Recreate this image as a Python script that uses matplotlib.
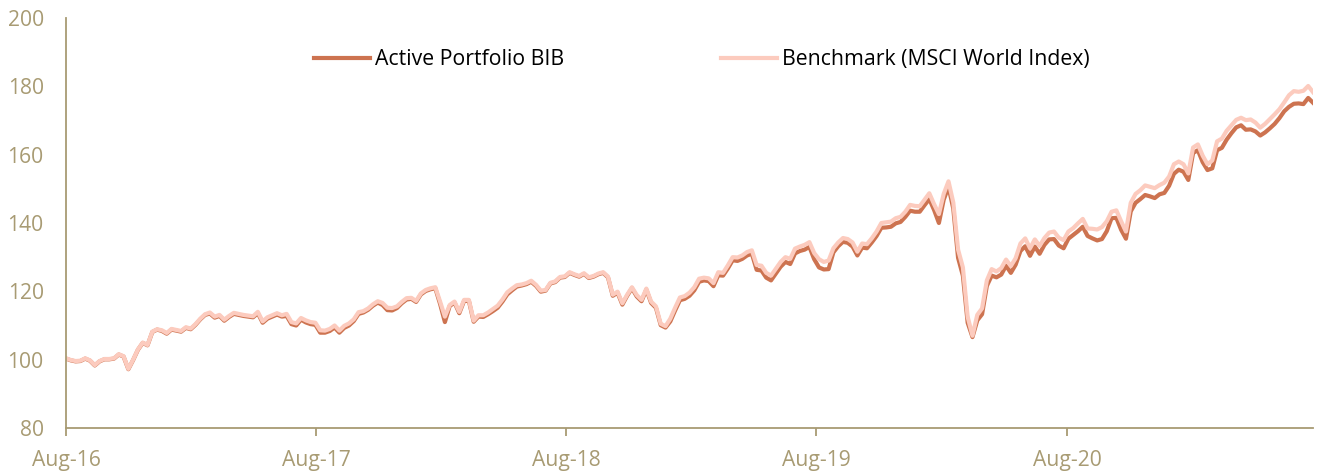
import matplotlib
matplotlib.use("Agg")
import matplotlib.pyplot as plt
import matplotlib.dates as mdates
import pandas as pd

# weekly index values, Aug-16 = 100
start_date = "2016-08-01"

benchmark = [
    100.4, 99.9, 99.6, 99.7, 100.4, 99.8, 98.4, 99.6, 100.2, 100.2,
    100.4, 101.6, 101.0, 97.3, 100.0, 103.0, 105.0, 104.3, 108.2, 108.9,
    108.6, 107.8, 109.0, 108.7, 108.4, 109.5, 109.1, 110.4, 112.0, 113.3,
    113.8, 112.6, 113.1, 111.7, 112.8, 113.7, 113.4, 113.1, 112.9, 112.7,
    114.0, 111.2, 112.4, 113.0, 113.6, 113.0, 113.4, 111.0, 110.6, 112.2,
    111.5, 111.0, 110.8, 108.6, 108.5, 109.0, 110.0, 108.5, 109.9, 110.6,
    111.8, 113.9, 114.2, 115.0, 116.2, 117.1, 116.6, 115.2, 115.1, 115.6,
    116.9, 118.0, 118.1, 117.2, 119.4, 120.4, 120.9, 121.2, 117.0, 112.6,
    116.0, 117.0, 114.0, 117.5, 117.5, 111.4, 113.0, 113.0, 113.8, 114.8,
    115.8, 117.6, 119.7, 120.8, 121.8, 122.0, 122.4, 123.1, 121.9, 120.2,
    120.4, 122.5, 122.9, 124.2, 124.4, 125.6, 125.0, 124.5, 125.3, 124.1,
    124.5, 125.2, 125.6, 124.3, 119.0, 119.9, 116.5, 119.0, 121.2, 118.9,
    117.5, 120.8, 117.0, 115.6, 110.5, 109.8, 112.0, 115.2, 118.2, 118.6,
    119.6, 121.2, 123.7, 124.0, 123.8, 122.4, 125.6, 125.4, 127.6, 130.0,
    129.9, 130.5, 131.5, 132.0, 127.7, 127.5, 125.4, 124.6, 126.6, 128.6,
    130.0, 129.5, 132.5, 133.1, 133.6, 134.4, 131.2, 129.4, 128.6, 129.0,
    132.6, 134.3, 135.6, 135.3, 134.3, 131.6, 134.0, 133.8, 135.5, 137.5,
    140.0, 140.2, 140.4, 141.4, 141.8, 143.3, 145.3, 145.0, 144.9, 146.8,
    148.7, 145.5, 142.6, 148.5, 152.2, 146.0, 132.2, 127.0, 112.5, 107.0,
    113.1, 115.0, 123.2, 126.5, 125.8, 126.8, 129.3, 127.4, 129.7, 134.0,
    135.5, 132.6, 135.2, 133.3, 135.6, 137.2, 137.5, 135.7, 135.0, 137.5,
    138.5, 139.9, 141.2, 138.4, 138.3, 138.1, 138.8, 140.5, 143.3, 143.7,
    140.5, 137.5, 145.9, 148.5, 149.6, 151.0, 150.6, 150.2, 151.1, 151.8,
    153.6, 157.2, 158.0, 157.2, 154.5, 162.1, 163.0, 159.7, 157.2, 158.3,
    163.9, 164.7, 167.0, 168.6, 170.2, 170.8, 170.1, 170.3, 169.4, 167.9,
    169.0, 170.4, 171.8, 173.3, 175.3, 177.4, 178.6, 178.4, 178.7, 180.1,
    178.3,
]

portfolio = [
    100.3, 99.8, 99.5, 99.6, 100.3, 99.7, 98.3, 99.5, 100.1, 100.1,
    100.3, 101.5, 100.9, 97.2, 99.9, 102.9, 104.9, 104.2, 108.1, 108.8,
    108.4, 107.6, 108.8, 108.5, 108.2, 109.3, 108.9, 110.2, 111.8, 113.1,
    113.5, 112.3, 112.8, 111.4, 112.5, 113.4, 113.1, 112.8, 112.6, 112.4,
    113.6, 110.8, 112.0, 112.6, 113.2, 112.6, 112.8, 110.4, 110.0, 111.7,
    110.9, 110.4, 110.2, 107.9, 107.9, 108.4, 109.4, 107.9, 109.3, 110.0,
    111.3, 113.4, 113.8, 114.6, 115.8, 116.7, 116.0, 114.5, 114.4, 115.1,
    116.5, 117.6, 117.8, 116.9, 119.1, 120.1, 120.6, 120.9, 116.3, 111.0,
    115.7, 116.7, 113.6, 117.2, 117.2, 111.1, 112.6, 112.5, 113.3, 114.2,
    115.2, 117.0, 119.1, 120.3, 121.4, 121.7, 122.1, 122.8, 121.6, 119.9,
    120.2, 122.3, 122.7, 124.0, 124.2, 125.4, 124.8, 124.3, 125.1, 123.9,
    124.3, 125.0, 125.4, 124.1, 118.7, 119.6, 116.1, 118.7, 120.9, 118.5,
    117.1, 120.5, 116.6, 115.2, 110.1, 109.4, 111.2, 114.4, 117.4, 117.8,
    118.7, 120.3, 122.8, 123.2, 123.0, 121.5, 124.7, 124.6, 126.7, 129.1,
    128.9, 129.5, 130.5, 131.0, 126.3, 126.1, 124.0, 123.2, 125.2, 127.2,
    128.6, 128.0, 131.1, 131.8, 132.2, 133.0, 129.4, 127.0, 126.4, 126.5,
    131.4, 133.2, 134.5, 134.2, 133.1, 130.5, 132.8, 132.6, 134.3, 136.2,
    138.6, 138.7, 138.9, 139.9, 140.3, 141.8, 143.6, 143.3, 143.3, 145.2,
    147.0, 143.8, 140.0, 146.8, 150.6, 144.2, 129.8, 124.6, 110.8, 106.6,
    111.5, 113.3, 121.6, 124.6, 124.1, 124.9, 127.5, 125.4, 127.8, 131.8,
    133.2, 130.4, 133.1, 131.0, 133.6, 135.2, 135.3, 133.4, 132.6, 135.4,
    136.5, 137.6, 138.9, 136.2, 135.5, 134.9, 135.3, 137.6, 141.4, 141.5,
    138.0, 135.4, 143.4, 145.9, 147.0, 148.2, 147.8, 147.3, 148.4, 148.8,
    150.9, 154.4, 155.6, 155.0, 152.6, 160.5, 161.3, 157.8, 155.5, 156.0,
    161.3, 162.0, 164.4, 166.3, 168.0, 168.6, 167.3, 167.4, 166.8, 165.6,
    166.5, 167.7, 169.0, 170.7, 172.7, 174.0, 174.9, 175.0, 174.8, 176.6,
    175.2,
]

dates = pd.date_range(start_date, periods=len(benchmark), freq="7D")

tan = "#A89B73"
plt.rcParams["font.family"] = ["Open Sans", "DejaVu Sans"]

fig = plt.figure(figsize=(13.19, 4.72), dpi=100)
ax = fig.add_axes([66 / 1319, 44 / 472, (1313 - 66) / 1319, 410 / 472])

ax.plot(dates, portfolio, color="#CD7350", lw=3.0, label="Active Portfolio BIB",
        solid_joinstyle="round")
ax.plot(dates, benchmark, color="#FCCBBE", lw=3.0, label="Benchmark (MSCI World Index)",
        solid_joinstyle="round")

ax.set_xlim(dates[0], dates[-1])
ax.set_ylim(80, 200)
ax.set_yticks(range(80, 201, 20))

ax.xaxis.set_major_locator(mdates.MonthLocator(bymonth=8, bymonthday=1))
ax.xaxis.set_major_formatter(mdates.DateFormatter("%b-%y"))

for s in ["top", "right"]:
    ax.spines[s].set_visible(False)
for s in ["left", "bottom"]:
    ax.spines[s].set_color(tan)
    ax.spines[s].set_linewidth(1.3)

ax.tick_params(axis="y", length=0, pad=16, labelsize=15.2, labelcolor=tan)
ax.tick_params(axis="x", length=6, width=1.3, color=tan, pad=10,
               labelsize=15.2, labelcolor=tan)

ax.legend(loc="center", bbox_to_anchor=(0.510, 0.898), ncol=2, frameon=False,
          fontsize=15.3, handlelength=2.6, handletextpad=0.25, columnspacing=7.4)

fig.savefig("out.png", dpi=100)
